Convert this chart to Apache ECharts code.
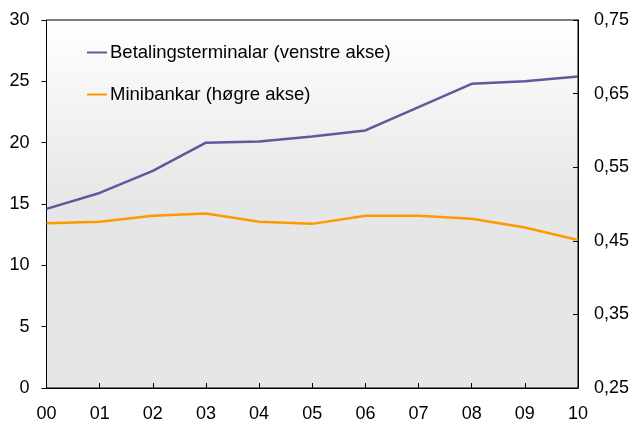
<!DOCTYPE html>
<html>
<head>
<meta charset="utf-8">
<script src="https://cdn.jsdelivr.net/npm/echarts@6/dist/echarts.min.js"></script>
<style>
  html, body { margin: 0; padding: 0; background: #fff; }
  #chart { width: 635px; height: 423px; }
</style>
</head>
<body>
<div id="chart"></div>
<script>
const years = ["00", "01", "02", "03", "04", "05", "06", "07", "08", "09", "10"];
const terminals = [14.6, 15.9, 17.7, 20.0, 20.1, 20.5, 21.0, 22.9, 24.8, 25.0, 25.4];
const atms = [0.474, 0.476, 0.484, 0.487, 0.476, 0.473, 0.484, 0.484, 0.480, 0.468, 0.451];

const font = "Liberation Sans, Arial, sans-serif";
const chart = echarts.init(document.getElementById("chart"));

chart.setOption({
  animation: false,
  grid: {
    left: 46.5, right: 57, top: 20, bottom: 32,
    show: true,
    borderColor: "#000",
    borderWidth: 1,
    backgroundColor: new echarts.graphic.LinearGradient(0, 0, 0, 1, [
      { offset: 0, color: "#ffffff" },
      { offset: 0.5, color: "#e6e6e6" },
      { offset: 1, color: "#e6e6e6" }
    ])
  },
  legend: {
    orient: "vertical",
    left: 87, top: 43,
    padding: 0,
    itemGap: 23,
    itemWidth: 20, itemHeight: 2,
    icon: "rect",
    textStyle: { fontFamily: font, fontSize: 18.5, color: "#000", padding: [0, 0, 0, -2] },
    data: ["Betalingsterminalar (venstre akse)", "Minibankar (høgre akse)"]
  },
  xAxis: {
    type: "category",
    data: years,
    boundaryGap: false,
    axisLine: { lineStyle: { color: "#000" } },
    axisTick: { inside: true, length: 5, lineStyle: { color: "#000" } },
    axisLabel: { fontFamily: font, fontSize: 18, color: "#000", margin: 17 }
  },
  yAxis: [
    {
      type: "value",
      min: 0, max: 30, interval: 5,
      axisLine: { show: true, lineStyle: { color: "#000" } },
      axisTick: { show: true, length: 5, lineStyle: { color: "#000" } },
      splitLine: { show: false },
      axisLabel: { fontFamily: font, fontSize: 18, color: "#000", margin: 17 }
    },
    {
      type: "value",
      min: 0.25, max: 0.75, interval: 0.1,
      position: "right",
      axisLine: { show: true, lineStyle: { color: "#000" } },
      axisTick: { show: true, inside: true, length: 5, lineStyle: { color: "#000" } },
      splitLine: { show: false },
      axisLabel: {
        fontFamily: font, fontSize: 18, color: "#000", margin: 16,
        formatter: v => v.toFixed(2).replace(".", ",")
      }
    }
  ],
  series: [
    {
      name: "Betalingsterminalar (venstre akse)",
      type: "line",
      yAxisIndex: 0,
      data: terminals,
      symbol: "none",
      itemStyle: { color: "#5b5b9b" },
      lineStyle: { color: "#5b5b9b", width: 2.5 }
    },
    {
      name: "Minibankar (høgre akse)",
      type: "line",
      yAxisIndex: 1,
      data: atms,
      symbol: "none",
      itemStyle: { color: "#ff9900" },
      lineStyle: { color: "#ff9900", width: 2.5 }
    }
  ]
});
</script>
</body>
</html>
